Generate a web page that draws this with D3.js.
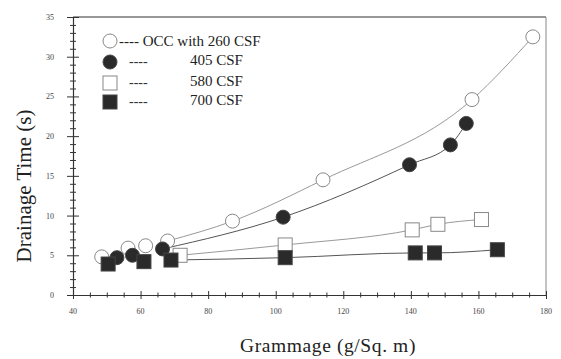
<!DOCTYPE html>
<html>
<head>
<meta charset="utf-8">
<script src="https://cdn.jsdelivr.net/npm/d3@7"></script>
<style>
  html, body { margin: 0; padding: 0; background: #fff; }
  svg { display: block; font-family: "Liberation Serif", "DejaVu Serif", serif; }
</style>
</head>
<body>
<svg id="chart" width="561" height="359"></svg>
<script>
// values
var occ260X = [48.5, 56.3, 61.5, 68, 87.2, 114, 158.1, 176.1]
var occ260Y = [4.8, 5.9, 6.2, 6.8, 9.3, 14.5, 24.6, 32.5]
var csf405X = [53, 57.6, 66.5, 102.2, 139.6, 151.7, 156.4]
var csf405Y = [4.7, 5.0, 5.8, 9.8, 16.4, 18.9, 21.6]
var csf580X = [71.7, 102.8, 140.4, 148, 160.9]
var csf580Y = [5.0, 6.3, 8.2, 8.9, 9.5]
var csf700X = [50.4, 61, 69, 102.8, 141.3, 147, 165.6]
var csf700Y = [3.9, 4.2, 4.4, 4.7, 5.3, 5.3, 5.7]
var lineFrom = [68, 66, 71, 69]   // fitted lines start at the end of the cluster
var legendLabels = ['---- OCC with 260 CSF', '405 CSF', '580 CSF', '700 CSF']
var xTickValues = [40, 60, 80, 100, 120, 140, 160, 180]
var yTickValues = [0, 5, 10, 15, 20, 25, 30, 35]

var series = [
    {x: occ260X, y: occ260Y, shape: 'circle', filled: false},
    {x: csf405X, y: csf405Y, shape: 'circle', filled: true},
    {x: csf580X, y: csf580Y, shape: 'square', filled: false},
    {x: csf700X, y: csf700Y, shape: 'square', filled: true}
]

var svg = d3.select('#chart')
var mapX = d3.scaleLinear().domain([40, 180]).range([73, 546])
var mapY = d3.scaleLinear().domain([0, 35]).range([295, 17])

var ink = '#2a2a2a'

// frame top and right
svg.append('line').attr('x1', mapX(40)).attr('x2', mapX(180))
    .attr('y1', mapY(35)).attr('y2', mapY(35))
    .attr('stroke', '#333').attr('stroke-width', 1.2)
svg.append('line').attr('x1', mapX(180)).attr('x2', mapX(180))
    .attr('y1', mapY(35)).attr('y2', mapY(0))
    .attr('stroke', '#888').attr('stroke-width', 1)

// y axis: ticks cross the line, minor every 1
var yAxis = d3.axisLeft(mapY).tickValues(d3.range(0, 36, 1))
    .tickSizeInner(0).tickSizeOuter(0).tickFormat('')
var gy = svg.append('g').attr('transform', 'translate(' + mapX(40) + ',0)').call(yAxis)
gy.select('.domain').attr('stroke', '#333').attr('stroke-width', 1.2)
gy.selectAll('.tick line')
    .attr('x1', function(d) { return d % 5 === 0 ? -6 : -3 })
    .attr('x2', function(d) { return d % 5 === 0 ? 6 : 3 })
    .attr('stroke', '#333')
svg.append('g').selectAll('text').data(yTickValues).enter().append('text')
    .attr('x', 54).attr('y', function(d) { return mapY(d) + 3 })
    .attr('text-anchor', 'end').attr('font-size', 8).attr('fill', '#444')
    .text(function(d) { return d })

// x axis: ticks every 5
var xAxis = d3.axisBottom(mapX).tickValues(d3.range(40, 181, 5))
    .tickSizeInner(0).tickSizeOuter(0).tickFormat('')
var gx = svg.append('g').attr('transform', 'translate(0,' + mapY(0) + ')').call(xAxis)
gx.select('.domain').attr('stroke', '#333').attr('stroke-width', 1.2)
gx.selectAll('.tick line')
    .attr('y1', function(d) { return d % 20 === 0 ? -4 : -2.5 })
    .attr('y2', function(d) { return d % 20 === 0 ? 4 : 2.5 })
    .attr('stroke', '#333')
svg.append('g').selectAll('text').data(xTickValues).enter().append('text')
    .attr('x', function(d) { return mapX(d) }).attr('y', 314)
    .attr('text-anchor', 'middle').attr('font-size', 8).attr('fill', '#444')
    .text(function(d) { return d })

// axis titles
svg.append('text').attr('x', 328).attr('y', 352)
    .attr('text-anchor', 'middle').attr('font-size', 19.5).attr('fill', '#222')
    .attr('letter-spacing', 0.6)
    .text('Grammage (g/Sq. m)')
svg.append('text').attr('transform', 'translate(31,' + 186 + ') rotate(-90)')
    .attr('text-anchor', 'middle').attr('font-size', 21).attr('fill', '#222')
    .text('Drainage Time (s)')

// fitted lines
var line = d3.line()
    .x(function(p) { return mapX(p[0]) })
    .y(function(p) { return mapY(p[1]) })
    .curve(d3.curveMonotoneX)
series.forEach(function(s, i) {
    var pts = d3.zip(s.x, s.y).filter(function(p) { return p[0] >= lineFrom[i] })
    svg.append('path').attr('d', line(pts))
        .attr('fill', 'none').attr('stroke', i % 2 === 0 ? '#999' : '#555').attr('stroke-width', 1)
})

function drawMarker(g, shape, filled, cx, cy) {
    if (shape === 'circle') {
        g.append('circle').attr('cx', cx).attr('cy', cy).attr('r', 7)
            .attr('fill', filled ? ink : '#fff')
            .attr('stroke', filled ? '#444' : '#888').attr('stroke-width', 1)
    } else {
        g.append('rect').attr('x', cx - 7).attr('y', cy - 7).attr('width', 14).attr('height', 14)
            .attr('fill', filled ? ink : '#fff')
            .attr('stroke', filled ? '#444' : '#888').attr('stroke-width', 1)
    }
}

// markers
series.forEach(function(s) {
    var g = svg.append('g')
    s.x.forEach(function(xv, j) {
        drawMarker(g, s.shape, s.filled, mapX(xv), mapY(s.y[j]))
    })
})

// legend
var legendY = [41, 62, 83, 102]
var leg = svg.append('g')
series.forEach(function(s, i) {
    drawMarker(leg, s.shape, s.filled, 110, legendY[i])
    if (i === 0) {
        leg.append('text').attr('x', 119).attr('y', legendY[i] + 5)
            .attr('font-size', 15).attr('fill', '#222').text(legendLabels[i])
    } else {
        leg.append('text').attr('x', 129).attr('y', legendY[i] + 4)
            .attr('font-size', 14).attr('fill', '#333').text('----')
        leg.append('text').attr('x', 190).attr('y', legendY[i] + 3)
            .attr('font-size', 15).attr('fill', '#222').text(legendLabels[i])
    }
})
</script>
</body>
</html>
